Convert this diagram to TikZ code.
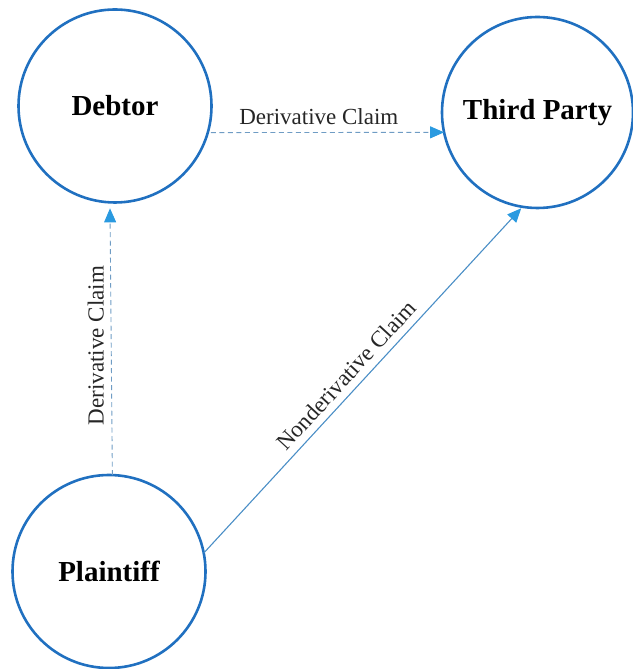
\documentclass[tikz,border=0pt]{standalone}
\usepackage{fontspec}
\setmainfont{Liberation Serif}
\usetikzlibrary{arrows.meta}
\definecolor{ringblue}{HTML}{2070C0}
\definecolor{tipblue}{HTML}{2A9AE0}
\definecolor{dashblue}{HTML}{6F9CC4}
\definecolor{lineblue}{HTML}{4A8EC6}
\tikzset{
  party/.style={circle, draw=ringblue, line width=2.6pt, inner sep=0pt, outer sep=0pt,
    font=\fontsize{29}{33}\selectfont\bfseries, text=black},
  claimtip/.style={-{Triangle[length=14pt,width=12pt,color=tipblue]}},
  dashclaim/.style={claimtip, draw=dashblue, line width=0.9pt, dash pattern=on 5pt off 3.5pt},
  solidclaim/.style={claimtip, draw=lineblue, line width=1.1pt},
  claimtext/.style={font=\fontsize{23}{27}\selectfont, text=black!85, inner sep=0pt},
  claimlabel/.style={claimtext, sloped, above=7pt}
}
\begin{document}
\begin{tikzpicture}[x=1pt,y=1pt]
\useasboundingbox (0,0) rectangle (632,669);
\node[party, minimum size=193pt] (debtor) at (115,563) {Debtor};
\node[party, minimum size=191pt] (third) at (537.5,556.5) {Third Party};
\node[party, minimum size=193pt] (plaintiff) at (109,97.5) {Plaintiff};
\draw[dashclaim, shorten <=3pt] (debtor.-16) -- node[claimlabel, pos=0.47] (l1) {Derivative Claim} (third.192);
\draw[dashclaim, shorten >=6pt] (plaintiff.88.8) -- node[claimtext, rotate=90, above=7pt, pos=0.475] (l2) {Derivative Claim} (debtor.267.6);
\draw[solidclaim, shorten >=2pt] (plaintiff.11.5) -- node[claimlabel, pos=0.483] (l3) {Nonderivative Claim} (third.261.5);
\end{tikzpicture}
\end{document}
